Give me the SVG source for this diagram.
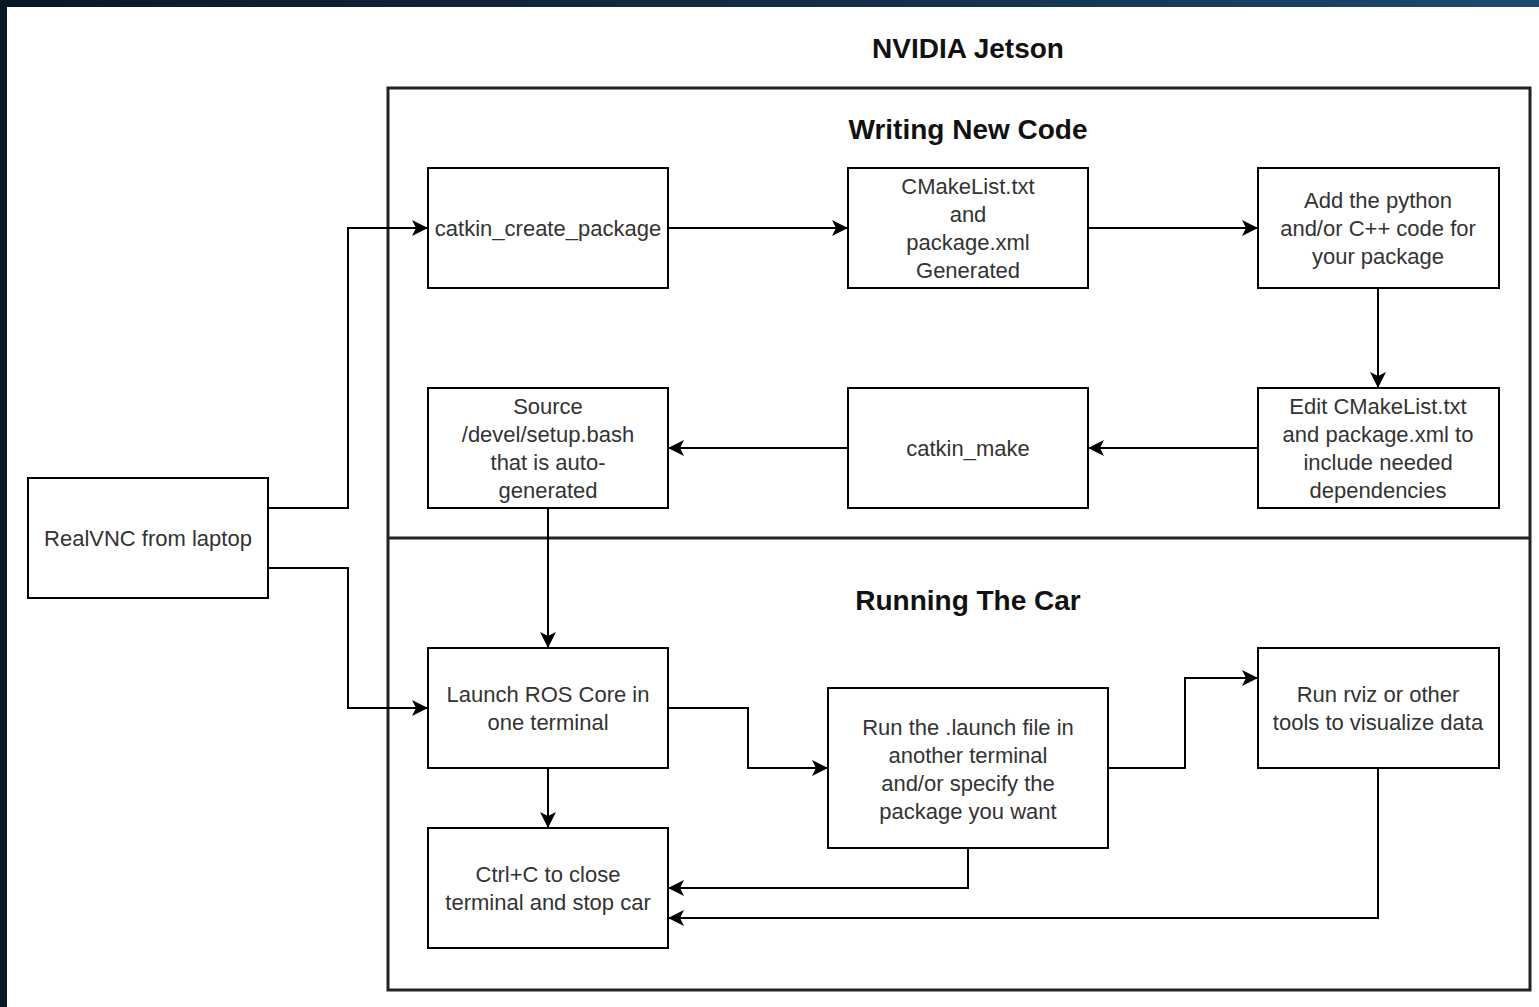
<svg xmlns="http://www.w3.org/2000/svg" width="1539" height="1007" viewBox="0 0 1539 1007">
<defs>
<linearGradient id="bg" x1="0" y1="0" x2="1" y2="0">
<stop offset="0" stop-color="#0a1724"/>
<stop offset="0.6" stop-color="#14304c"/>
<stop offset="1" stop-color="#1d4a72"/>
</linearGradient>
<marker id="arr" markerWidth="18" markerHeight="16" refX="15" refY="8" orient="auto" markerUnits="userSpaceOnUse">
<path d="M0,0 L16,8 L0,16 L4,8 z" fill="#000"/>
</marker>
<style>
.box{fill:#fff;stroke:#000;stroke-width:2}
.t{font-family:"Liberation Sans",Arial,sans-serif;font-size:22px;fill:#333;text-anchor:middle}
.h{font-family:"Liberation Sans",Arial,sans-serif;font-size:28px;font-weight:bold;fill:#111;text-anchor:middle}
.c{fill:none;stroke:#000;stroke-width:2;marker-end:url(#arr)}
</style>
</defs>
<rect x="0" y="0" width="1539" height="1007" fill="url(#bg)"/>
<rect x="7" y="7" width="1532" height="1000" fill="#fff"/>
<text class="h" x="968" y="58">NVIDIA Jetson</text>
<g id="container">
<rect x="388" y="88" width="1142" height="902" fill="none" stroke="#222" stroke-width="3"/>
<line x1="388" y1="538" x2="1530" y2="538" stroke="#222" stroke-width="3"/>
<text class="h" x="968" y="139">Writing New Code</text>
<text class="h" x="968" y="610">Running The Car</text>
</g>
<g id="connectors">
<path class="c" d="M268,508 H348 V228 H427"/>
<path class="c" d="M268,568 H348 V708 H427"/>
<path class="c" d="M668,228 H847"/>
<path class="c" d="M1088,228 H1257"/>
<path class="c" d="M1378,288 V387"/>
<path class="c" d="M1258,448 H1089"/>
<path class="c" d="M848,448 H669"/>
<path class="c" d="M548,508 V647"/>
<path class="c" d="M668,708 H748 V768 H827"/>
<path class="c" d="M548,768 V827"/>
<path class="c" d="M1108,768 H1185 V678 H1257"/>
<path class="c" d="M968,848 V888 H669"/>
<path class="c" d="M1378,768 V918 H669"/>
</g>
<g id="n-vnc"><rect class="box" x="28" y="478" width="240" height="120"/><text class="t" x="148" y="546">RealVNC from laptop</text></g>
<g id="n-create"><rect class="box" x="428" y="168" width="240" height="120"/><text class="t" x="548" y="236">catkin_create_package</text></g>
<g id="n-cmake"><rect class="box" x="848" y="168" width="240" height="120"/><text class="t" x="968" y="194">CMakeList.txt</text><text class="t" x="968" y="222">and</text><text class="t" x="968" y="250">package.xml</text><text class="t" x="968" y="278">Generated</text></g>
<g id="n-add"><rect class="box" x="1258" y="168" width="241" height="120"/><text class="t" x="1378" y="208">Add the python</text><text class="t" x="1378" y="236">and/or C++ code for</text><text class="t" x="1378" y="264">your package</text></g>
<g id="n-edit"><rect class="box" x="1258" y="388" width="241" height="120"/><text class="t" x="1378" y="414">Edit CMakeList.txt</text><text class="t" x="1378" y="442">and package.xml to</text><text class="t" x="1378" y="470">include needed</text><text class="t" x="1378" y="498">dependencies</text></g>
<g id="n-make"><rect class="box" x="848" y="388" width="240" height="120"/><text class="t" x="968" y="456">catkin_make</text></g>
<g id="n-source"><rect class="box" x="428" y="388" width="240" height="120"/><text class="t" x="548" y="414">Source</text><text class="t" x="548" y="442">/devel/setup.bash</text><text class="t" x="548" y="470">that is auto-</text><text class="t" x="548" y="498">generated</text></g>
<g id="n-launch"><rect class="box" x="428" y="648" width="240" height="120"/><text class="t" x="548" y="702">Launch ROS Core in</text><text class="t" x="548" y="730">one terminal</text></g>
<g id="n-run"><rect class="box" x="828" y="688" width="280" height="160"/><text class="t" x="968" y="735">Run the .launch file in</text><text class="t" x="968" y="763">another terminal</text><text class="t" x="968" y="791">and/or specify the</text><text class="t" x="968" y="819">package you want</text></g>
<g id="n-rviz"><rect class="box" x="1258" y="648" width="241" height="120"/><text class="t" x="1378" y="702">Run rviz or other</text><text class="t" x="1378" y="730">tools to visualize data</text></g>
<g id="n-ctrl"><rect class="box" x="428" y="828" width="240" height="120"/><text class="t" x="548" y="882">Ctrl+C to close</text><text class="t" x="548" y="910">terminal and stop car</text></g>
</svg>
